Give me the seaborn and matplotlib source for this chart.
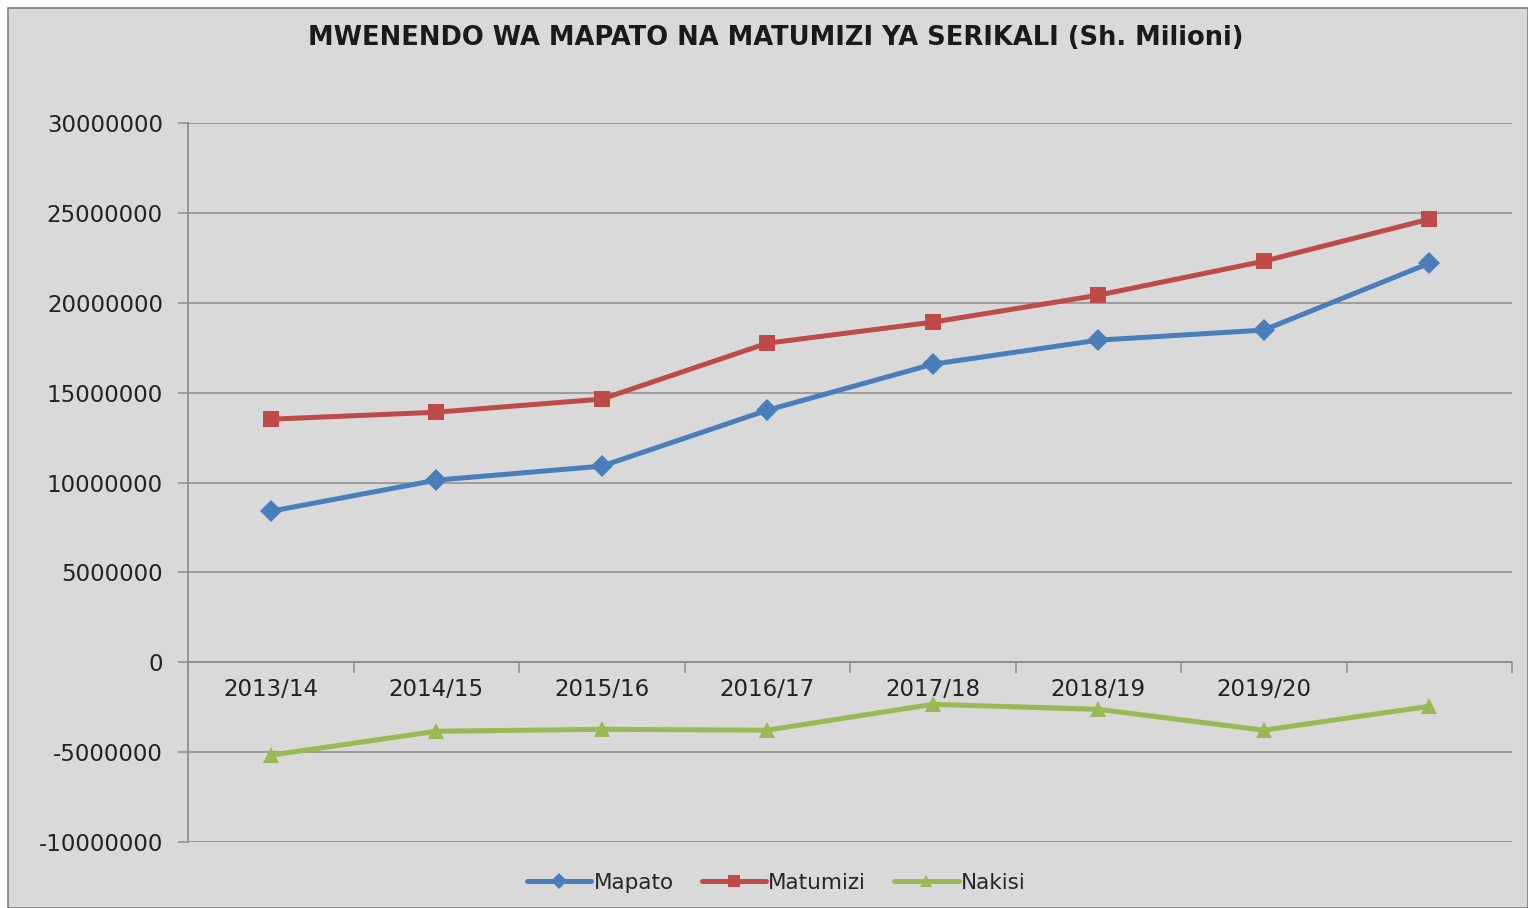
import matplotlib
matplotlib.use("Agg")
import matplotlib.pyplot as plt
import matplotlib.ticker as mticker
from matplotlib.patches import Rectangle
import pandas as pd
import seaborn as sns

YEARS = ["2013/14", "2014/15", "2015/16", "2016/17", "2017/18", "2018/19", "2019/20", ""]
MAPATO = [8400000, 10130000, 10910000, 14020000, 16580000, 17920000, 18480000, 22200000]
MATUMIZI = [13520000, 13910000, 14640000, 17750000, 18920000, 20420000, 22310000, 24650000]
NAKISI = [-5170000, -3840000, -3730000, -3780000, -2340000, -2620000, -3780000, -2450000]

SERIES = ["Mapato", "Matumizi", "Nakisi"]
PALETTE = {"Mapato": "#4A7EBB", "Matumizi": "#BE4B48", "Nakisi": "#98B954"}
MARKERS = {"Mapato": "D", "Matumizi": "s", "Nakisi": "^"}
BG = "#D9D9D9"
GRID = "#8C8C8C"


def build_frame() -> pd.DataFrame:
    rows = []
    for name, values in zip(SERIES, [MAPATO, MATUMIZI, NAKISI]):
        for pos, value in enumerate(values):
            rows.append({"pos": pos, "value": value, "series": name})
    return pd.DataFrame(rows)


def main() -> None:
    sns.set_theme(style="white")
    plt.rcParams["font.family"] = ["DejaVu Sans"]

    df = build_frame()

    fig = plt.figure(figsize=(15.28, 9.08), dpi=100)
    fig.patch.set_facecolor("white")
    fig.patches.append(
        Rectangle((8 / 1528, 0.0), 1 - 8 / 1528, 1 - 8 / 908, transform=fig.transFigure,
                  facecolor=BG, edgecolor="#7F7F7F", linewidth=1.2, zorder=-10)
    )
    ax = fig.add_axes([188 / 1528, 1 - 842 / 908, (1512 - 188) / 1528, (842 - 123) / 908])
    ax.set_facecolor(BG)

    sns.lineplot(
        data=df, x="pos", y="value", hue="series", style="series",
        palette=PALETTE, markers=MARKERS, dashes=False, linewidth=3.6,
        markersize=11.5, markeredgewidth=0, ax=ax, legend=True,
    )

    ax.set_xlim(-0.5, len(YEARS) - 0.5)
    ax.set_ylim(-10000000, 30000000)
    ax.yaxis.set_major_locator(mticker.MultipleLocator(5000000))
    ax.yaxis.set_major_formatter(mticker.FuncFormatter(lambda v, _: f"{int(round(v))}"))
    ax.grid(axis="y", color=GRID, linewidth=1.1)
    ax.grid(axis="x", visible=False)
    ax.set_axisbelow(True)

    # category axis crossing at zero
    ax.spines["bottom"].set_position(("data", 0))
    ax.spines["bottom"].set_color(GRID)
    ax.spines["bottom"].set_linewidth(1.1)
    ax.spines["left"].set_color(GRID)
    ax.spines["top"].set_visible(False)
    ax.spines["right"].set_visible(False)
    ax.set_xticks(range(len(YEARS)))
    ax.set_xticklabels(YEARS)
    ax.set_xticks([i - 0.5 for i in range(len(YEARS) + 1)], minor=True)
    ax.tick_params(axis="x", which="major", length=0, pad=11, labelsize=16.5, labelcolor="#222222")
    ax.tick_params(axis="x", which="minor", bottom=True, length=8, color=GRID, width=1.1)
    ax.tick_params(axis="y", left=True, length=7, color=GRID, width=1.1, labelsize=16.5,
                   labelcolor="#222222", pad=11)
    ax.set_xlabel("")
    ax.set_ylabel("")

    handles, labels = ax.get_legend_handles_labels()
    for h in handles:
        h.set_markersize(8)
    ax.get_legend().remove()
    fig.legend(handles, labels, loc="center", bbox_to_anchor=(0.508, 1 - 883 / 908), ncol=3,
               frameon=False, fontsize=15.5, handlelength=3.0, columnspacing=1.3, handletextpad=0.1)

    fig.text(0.508, 1 - 38 / 908, "MWENENDO WA MAPATO NA MATUMIZI YA SERIKALI (Sh. Milioni)",
             ha="center", va="center", fontsize=18.5, fontweight="bold", color="#1A1A1A")

    fig.savefig("out.png", dpi=100, facecolor=fig.get_facecolor())
    plt.close(fig)


if __name__ == "__main__":
    main()
